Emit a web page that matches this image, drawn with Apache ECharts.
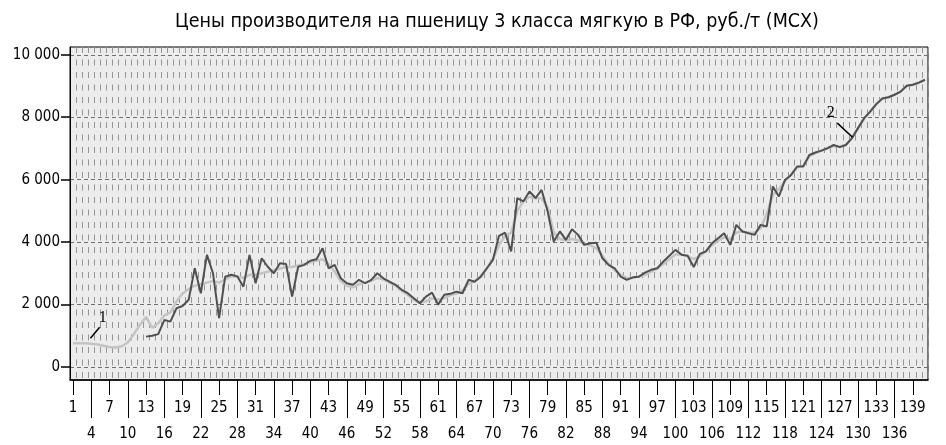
<!DOCTYPE html>
<html>
<head>
<meta charset="utf-8">
<script src="https://cdn.jsdelivr.net/npm/echarts@6/dist/echarts.min.js"></script>
<style>
html, body { margin: 0; padding: 0; background: #fff; }
#chart { width: 946px; height: 445px; }
</style>
</head>
<body>
<div id="chart"></div>
<script>
// номера месяцев
var months = [];
for (var m = 1; m <= 141; m++) months.push(String(m));

// 1 - светлая линия
var line1 = [760, 760, 760, 740, 720, 680, 640, 620, 660, 780,
    1050, 1350, 1600, 1250, 1400, 1650, 1750, 2100, 2350, 2500,
    2600, 2650, 2700, 2750, 2700, 2800, 2900, 2900, 2850, 2950,
    2950, 3000, 3050, 3100, 3150, 3200, 3200, 3250, 3300, 3350,
    3400, 3450, 3300, 3050, 2750, 2600, 2550, 2650, 2700, 2750,
    2850, 2800, 2700, 2600, 2450, 2300, 2150, 2050, 2100, 2200,
    2150, 2200, 2300, 2350, 2450, 2650, 2750, 2900, 3150, 3450,
    3900, 4200, 4300, 5000, 5300, 5450, 5400, 5400, 5100, 4300,
    4100, 4050, 4100, 4050, 3950, 3900, 3800, 3550, 3300, 3100,
    2950, 2850, 2850, 2900, 2950, 3050, 3150, 3300, 3450, 3600,
    3600, 3550, 3450, 3550, 3700, 3900, 4050, 4150, 4100, 4300,
    4350, 4300, 4300, 4450, 4900, 5500, 5700, 5950, 6150, 6400,
    6450, 6750, 6850, 6930, 7000, 7080, 7060, 7110, 7330, 7650,
    7950, 8180, 8420, 8600, 8640, 8720, 8820, 9000, 9040, 9110,
    9200];

// 2 - тёмная линия
var line2 = [null, null, null, null, null, null, null, null, null, null,
    null, null, 970, 1000, 1050, 1500, 1450, 1880, 1950, 2150,
    3160, 2360, 3590, 3000, 1560, 2890, 2950, 2900, 2570, 3590,
    2680, 3480, 3210, 3000, 3320, 3300, 2250, 3210, 3270, 3400,
    3450, 3800, 3160, 3270, 2840, 2680, 2630, 2790, 2680, 2790,
    3000, 2840, 2730, 2630, 2470, 2360, 2200, 2040, 2250, 2380,
    1990, 2310, 2340, 2410, 2360, 2790, 2730, 2890, 3160, 3430,
    4200, 4300, 3700, 5410, 5300, 5620, 5410, 5670, 4980, 4020,
    4340, 4070, 4410, 4230, 3910, 3960, 3980, 3480, 3270, 3160,
    2890, 2790, 2870, 2890, 3020, 3110, 3160, 3375, 3560, 3750,
    3590, 3560, 3200, 3620, 3700, 3960, 4120, 4280, 3910, 4550,
    4340, 4280, 4230, 4550, 4500, 5780, 5460, 5990, 6150, 6420,
    6420, 6790, 6870, 6930, 7010, 7110, 7040, 7110, 7330, 7650,
    7970, 8180, 8420, 8600, 8640, 8720, 8820, 9010, 9040, 9110,
    9200];

var yTicks = [0, 2000, 4000, 6000, 8000, 10000];

// выноски: [индекс месяца, значение]
var note1Line = [[2.86, 920], [4.37, 1270]];
var note1Text = [4.9, 1570];
var note2Line = [[125.6, 7810], [128.1, 7360]];
var note2Text = [124.5, 8130];

var narrow = "'Liberation Sans Narrow', 'DejaVu Sans Condensed', sans-serif";

function fmt(v) {
    return String(v).replace(/\B(?=(\d{3})+(?!\d))/g, ' ');
}

var myChart = echarts.init(document.getElementById('chart'));
var option = {
    animation: false,
    backgroundColor: '#fff',
    title: {
        text: 'Цены производителя на пшеницу 3 класса мягкую в РФ, руб./т (МСХ)',
        left: 492,
        textAlign: 'center',
        top: 7,
        textStyle: { fontFamily: narrow, fontSize: 19.5, fontWeight: 'normal', color: '#000' }
    },
    grid: {
        left: 70, right: 18, top: 47, bottom: 65,
        show: true, backgroundColor: '#ececec', borderColor: '#000', borderWidth: 1
    },
    xAxis: [{
        type: 'category',
        data: months,
        boundaryGap: true,
        axisLine: { onZero: false, lineStyle: { color: '#000', width: 1.5 } },
        axisTick: {
            show: true, alignWithLabel: true, length: 15, lineStyle: { color: '#000' },
            interval: function(i) { return i % 6 === 0; }
        },
        axisLabel: {
            interval: function(i) { return i % 6 === 0; },
            margin: 21, fontFamily: narrow, fontSize: 15, color: '#000'
        },
        splitLine: {
            show: true, interval: 0,
            lineStyle: { color: '#959595', width: 1, type: [6, 6.5] }
        }
    }, {
        type: 'category',
        data: months,
        position: 'bottom',
        boundaryGap: true,
        axisLine: { show: false, onZero: false },
        axisTick: {
            show: true, alignWithLabel: true, length: 38, lineStyle: { color: '#000' },
            interval: function(i) { return i % 6 === 3; }
        },
        axisLabel: {
            interval: function(i) { return i % 6 === 3; },
            margin: 47, fontFamily: narrow, fontSize: 15, color: '#000'
        },
        splitLine: { show: false }
    }],
    yAxis: {
        type: 'value',
        min: -420,
        max: 10250,
        axisLine: { show: true, lineStyle: { color: '#000' } },
        axisTick: { show: true, length: 9, customValues: yTicks, lineStyle: { color: '#000', width: 1.5 } },
        axisLabel: {
            customValues: yTicks, formatter: fmt, margin: 10,
            fontFamily: narrow, fontSize: 15, color: '#000'
        },
        splitLine: { show: true, lineStyle: { color: '#707070', width: 1, type: [4, 3] } }
    },
    series: [{
        name: '1',
        type: 'line',
        data: line1,
        showSymbol: false,
        lineStyle: { color: '#c4c4c4', width: 2.5 },
        z: 3
    }, {
        name: '2',
        type: 'line',
        data: line2,
        showSymbol: false,
        connectNulls: false,
        lineStyle: { color: '#505050', width: 2 },
        z: 4
    }]
};
myChart.setOption(option);

// пересчёт дробного индекса в пиксели
function toPx(p) {
    var i0 = Math.floor(p[0]);
    var a = myChart.convertToPixel({ gridIndex: 0 }, [i0, p[1]]);
    var b = myChart.convertToPixel({ gridIndex: 0 }, [i0 + 1, p[1]]);
    return [a[0] + (b[0] - a[0]) * (p[0] - i0), a[1]];
}

function note(linePts, textPt, label) {
    var p1 = toPx(linePts[0]), p2 = toPx(linePts[1]), t = toPx(textPt);
    return [{
        type: 'line',
        shape: { x1: p1[0], y1: p1[1], x2: p2[0], y2: p2[1] },
        style: { stroke: '#000', lineWidth: 1.5 },
        z: 10
    }, {
        type: 'text',
        x: t[0], y: t[1],
        style: {
            text: label, fill: '#000', align: 'center', verticalAlign: 'middle',
            font: '16px "Liberation Serif", serif'
        },
        z: 10
    }];
}

myChart.setOption({
    graphic: note(note1Line, note1Text, '1').concat(note(note2Line, note2Text, '2'))
});
</script>
</body>
</html>
